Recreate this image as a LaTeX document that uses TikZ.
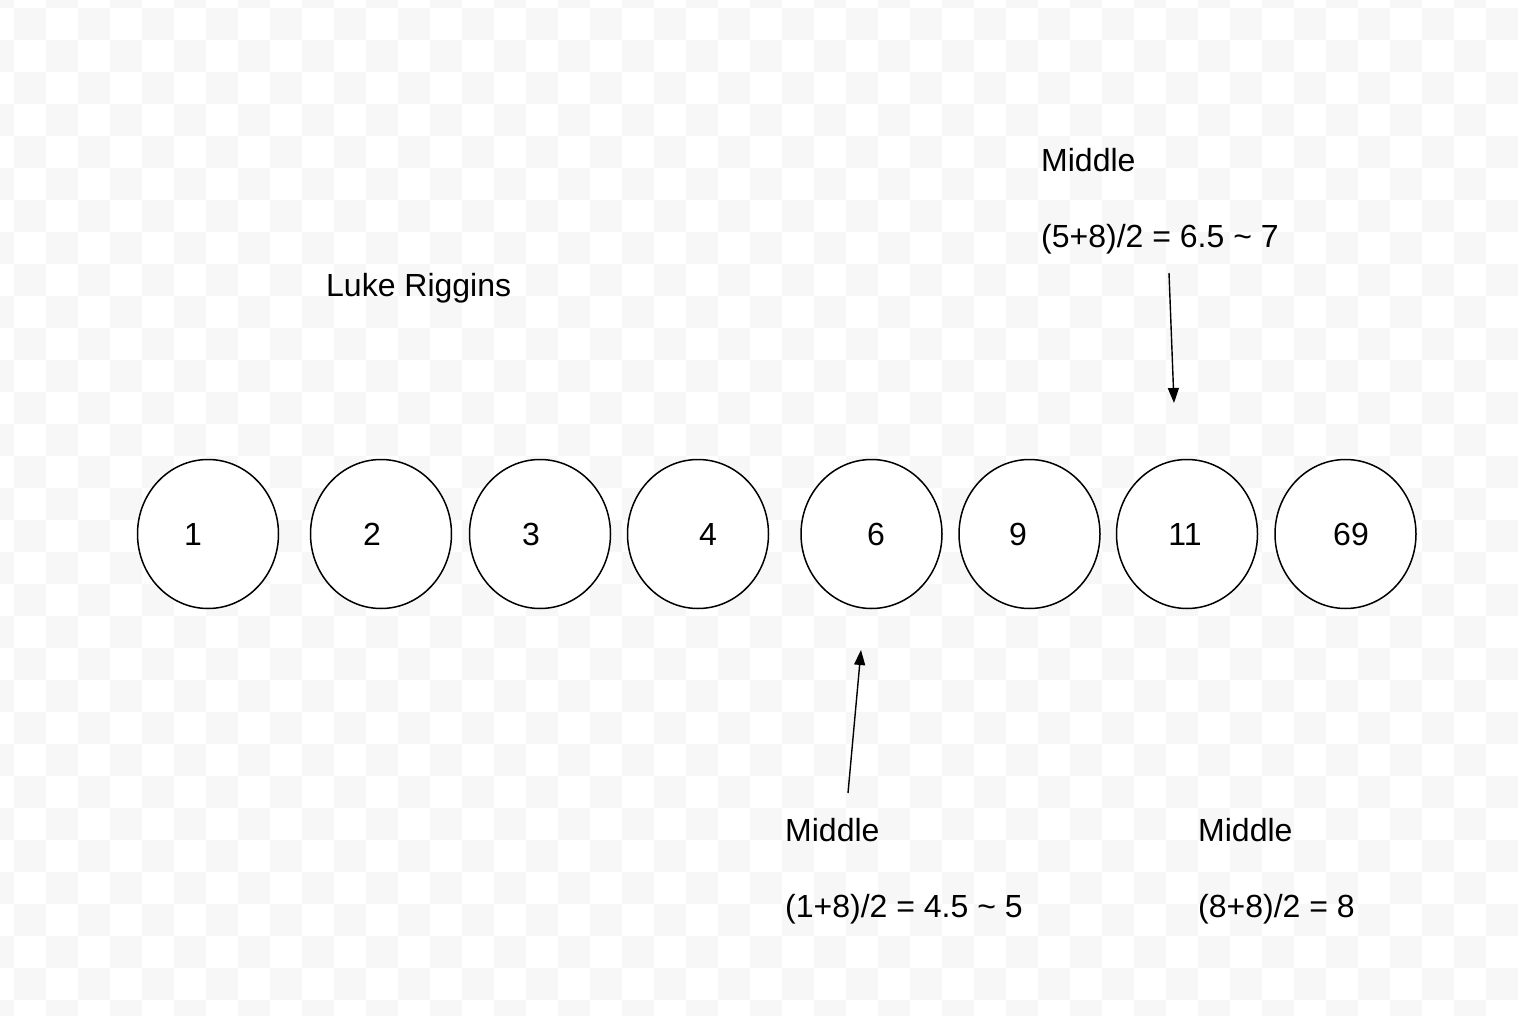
\documentclass[tikz,border=0pt]{standalone}
\usepackage{fontspec}
\setmainfont{Liberation Sans}
\usetikzlibrary{shapes.geometric,arrows.meta}
\definecolor{checkgray}{HTML}{F7F7F7}
\begin{document}
\begin{tikzpicture}[x=1pt,y=-1pt,
  cell/.style={draw,ellipse,fill=white,line width=1.5pt,minimum width=141pt,minimum height=149pt,inner sep=0pt},
  num/.style={anchor=base,inner sep=0pt,font=\fontsize{32}{38}\selectfont},
  txt/.style={anchor=base west,inner sep=0pt,font=\fontsize{32}{38}\selectfont},
  arr/.style={line width=1.4pt,-{Triangle[length=15pt,width=11pt]}}]
\useasboundingbox (0,0) rectangle (1518,1016);
\begin{scope}
\clip (0,0) rectangle (1518,1016);
\fill[white] (0,0) rectangle (1518,1016);
\foreach \i in {-1,...,47}{
  \foreach \j in {-1,...,31}{
    \pgfmathtruncatemacro\s{mod(\i+\j+4,2)}
    \ifnum\s=0
      \fill[checkgray] ({14+32*\i},{8+32*\j}) rectangle +(32,32);
    \fi
  }
}
\end{scope}
% circles
\node[cell] (c1) at (208,534) {};
\node[cell] (c2) at (381,534) {};
\node[cell] (c3) at (540,534) {};
\node[cell] (c4) at (698,534) {};
\node[cell] (c6) at (871.5,534) {};
\node[cell] (c9) at (1029.5,534) {};
\node[cell] (c11) at (1187,534) {};
\node[cell] (c69) at (1345.5,534) {};
% numbers
\node[num] (n1) at (193,545) {1};
\node[num] (n2) at (372,545) {2};
\node[num] (n3) at (531,545) {3};
\node[num] (n4) at (708,545) {4};
\node[num] (n6) at (876,545) {6};
\node[num] (n9) at (1018,545) {9};
\node[num] (n11) at (1185,545) {11};
\node[num] (n69) at (1351,545) {69};
% texts
\node[txt] (name) at (326,297) {Luke Riggins};
\node[txt] (mtop) at (1041,172) {Middle};
\node[txt] (ftop) at (1041,248) {(5+8)/2 = 6.5 \textasciitilde{} 7};
\node[txt] (mbl) at (785,841) {Middle};
\node[txt] (fbl) at (785,917) {(1+8)/2 = 4.5 \textasciitilde{} 5};
\node[txt] (mbr) at (1198,841) {Middle};
\node[txt] (fbr) at (1198,917) {(8+8)/2 = 8};
% arrows
\coordinate (a1s) at (1169,273);
\coordinate (a1e) at (1174,403);
\coordinate (a2s) at (848,793);
\coordinate (a2e) at (861,650);
\draw[arr] (a1s) -- (a1e);
\draw[arr] (a2s) -- (a2e);
\end{tikzpicture}
\end{document}
